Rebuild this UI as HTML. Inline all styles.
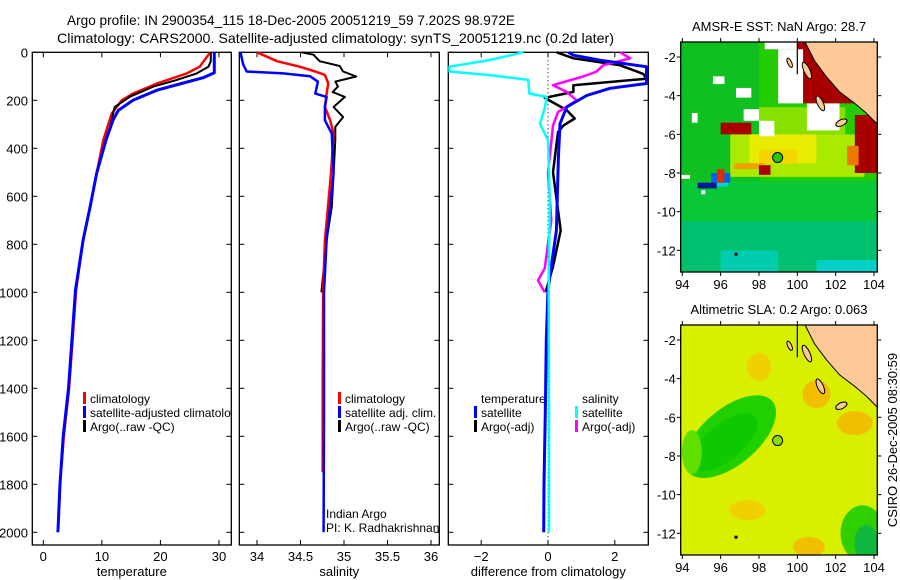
<!DOCTYPE html>
<html><head><meta charset="utf-8"><style>
html,body{margin:0;padding:0;background:#fff;}
svg{display:block;font-family:"Liberation Sans",sans-serif;}
</style></head><body>
<svg id="fig" width="900" height="580" viewBox="0 0 900 580" xmlns="http://www.w3.org/2000/svg">
<text x="67" y="25" font-size="14" textLength="448" lengthAdjust="spacingAndGlyphs">Argo profile: IN 2900354_115 18-Dec-2005 20051219_59 7.202S 98.972E</text>
<text x="57" y="43" font-size="14" textLength="557" lengthAdjust="spacingAndGlyphs">Climatology: CARS2000. Satellite-adjusted climatology: synTS_20051219.nc (0.2d later)</text>
<g id="plots"></g>
<g id="maps"></g>
<text transform="translate(897,440) rotate(-90)" text-anchor="middle" font-size="13">CSIRO 26-Dec-2005 08:30:59</text>
</svg>
<script>
// ---- data ----
const depthTicks = [0,200,400,600,800,1000,1200,1400,1600,1800,2000];
const tempTicks = [0,10,20,30];
const salTicks = [34,34.5,35,35.5,36];
const salTickLabels = ["34","34.5","35","35.5","36"];
const diffTicks = [-2,0,2];
// temperature
const tClimDepth = [0,60,88,130,172,200,255,366,505,644,783,990,1400,1600,1724];
const tClim = [28.5,26.7,24.5,19.4,15.3,13.4,11.7,10.25,9.1,8.0,6.8,5.6,4.4,3.5,3.1];
const tSatDepth = [0,85,106,130,158,200,242,283,366,505,644,783,990,1400,1600,1800,2000];
const tSat = [29.2,29.2,27.3,23.6,19.4,15.3,12.8,11.9,10.7,9.1,8.0,6.8,5.5,4.3,3.4,2.85,2.5];
const tArgoDepth = [0,37,60,88,115,143,185,228,311,366,505,644,783,1000];
const tArgo = [28.6,28.6,28.2,26.2,22.8,18.8,14.8,12.2,11.4,10.6,9.1,8.0,6.8,5.5];
// salinity
const sClimDepth = [0,37,60,80,94,130,172,228,283,339,505,783,1000,1400,1750];
const sClim = [34.0,34.23,34.49,34.67,34.78,34.82,34.80,34.78,34.84,34.88,34.85,34.78,34.76,34.755,34.755];
const sSatDepth = [0,49,80,88,100,122,172,186,228,283,339,505,783,1000,1500,2000];
const sSat = [33.81,33.84,33.88,34.3,34.61,34.70,34.67,34.80,34.78,34.78,34.86,34.88,34.80,34.77,34.77,34.765];
const sArgoDepth = [0,10,37,57,80,101,122,143,166,186,228,270,311,366,505,644,783,1000];
const sArgo = [34.51,34.65,34.72,34.95,34.99,35.14,34.90,34.93,34.87,35.01,34.88,34.99,34.90,34.90,34.88,34.86,34.80,34.74];
// differences from climatology
const dTSatDepth = [0,12,33,60,130,150,180,228,298,437,742,990,1200,1500,1800,2000];
const dTSat = [0.61,0.76,1.56,2.95,2.95,1.86,1.16,0.56,0.36,0.31,0.25,0.0,-0.05,-0.08,-0.12,-0.13];
const dTArgoDepth = [0,25,54,90,110,137,165,190,241,276,305,333,500,742,893,990,1000];
const dTArgo = [0.26,0.76,2.16,2.85,2.95,0.76,0.76,-0.1,0.56,0.8,0.46,0.3,0.15,0.38,0.15,-0.05,-0.05];
const dSSatDepth = [0,32,60,80,95,115,172,186,228,298,366,600,1000,1500,2000];
const dSSat = [-0.74,-1.74,-2.95,-2.95,-1.74,-0.59,-0.56,-0.04,-0.09,-0.24,0.0,0.05,0.02,0.03,0.03];
const dSArgoDepth = [0,25,54,81,101,137,165,200,249,305,374,500,700,900,950,1000];
const dSArgo = [2.16,2.46,1.65,1.45,1.05,0.15,0.56,0.86,0.3,0.15,0.1,0.0,0.1,-0.1,-0.3,-0.1];

const NS='http://www.w3.org/2000/svg';
function mk(tag, attrs, parent){const e=document.createElementNS(NS,tag);for(const k in attrs)e.setAttribute(k,attrs[k]);parent.appendChild(e);return e;}
const plots=document.getElementById('plots');
const yD = d => 52.3 + d*0.24;
const panels = [
  {name:'temperature', x0:32.3, x1:231.3, fx:v=>43.3+5.856*v, ticks:tempTicks, labels:tempTicks.map(String), xlabel:'temperature'},
  {name:'salinity', x0:239.3, x1:439.3, fx:v=>257+87*(v-34), ticks:salTicks, labels:salTickLabels, xlabel:'salinity'},
  {name:'difference', x0:448.3, x1:648.3, fx:v=>548+33.4*v, ticks:diffTicks, labels:diffTicks.map(v=>v<0?'\u2212'+(-v):String(v)), xlabel:'difference from climatology'}
];
const topY=52.3, botY=545;
panels.forEach((p,i)=>{
  const g=mk('g',{},plots);
  
  
  const cp=mk('clipPath',{id:'pclip'+i},g);
  mk('rect',{x:p.x0,y:topY,width:p.x1-p.x0,height:botY-topY},cp);
  p.clipId='pclip'+i;
  const r=mk('rect',{x:p.x0,y:topY,width:p.x1-p.x0,height:botY-topY,fill:'none',stroke:'#000','stroke-width':1.3},g);
  
  
  p.ticks.forEach((t,j)=>{
    const x=p.fx(t);
    mk('line',{x1:x,x2:x,y1:botY,y2:botY-5,stroke:'#000'},g);
    mk('line',{x1:x,x2:x,y1:topY,y2:topY+5,stroke:'#000'},g);
    const tl=mk('text',{x:x,y:botY+16,'text-anchor':'middle','font-size':13},g);
    tl.textContent=p.labels[j];
    
    
  });
  depthTicks.forEach(d=>{
    const y=yD(d);
    mk('line',{x1:p.x0,x2:p.x0+5,y1:y,y2:y,stroke:'#000'},g);
    mk('line',{x1:p.x1,x2:p.x1-5,y1:y,y2:y,stroke:'#000'},g);
    if(i===0){
      const tl=mk('text',{x:28,y:y+5,'text-anchor':'end','font-size':13},g);
      tl.textContent=String(d);
      
      
    }
  });
  const xl=mk('text',{x:(p.x0+p.x1)/2,y:576,'text-anchor':'middle','font-size':13},g);
  xl.textContent=p.xlabel;
  
  
  p.g=g;
  p.lg=mk('g',{'clip-path':'url(#pclip'+i+')'},g);
});
const zl=mk('line',{x1:548,x2:548,y1:topY,y2:botY,stroke:'#000','stroke-dasharray':'1,3'},panels[2].g);



function series(p, depths, vals, color, name, w){
  const pts=depths.map((d,k)=>{let x=p.fx(vals[k]);x=Math.max(p.x0+1,Math.min(p.x1-1,x));return x.toFixed(1)+','+yD(d).toFixed(1);}).join(' ');
  const l=mk('polyline',{points:pts,fill:'none',stroke:color,'stroke-width':w||2.5,'stroke-linejoin':'round'},p.g);
  
  
}
const P1=panels[0],P2=panels[1],P3=panels[2];
series(P1,tClimDepth,tClim,'#ff0000','temperature-climatology-line');
series(P1,tArgoDepth,tArgo,'#000000','temperature-argo-line',2);
series(P1,tSatDepth,tSat,'#0000ff','temperature-satellite-line',3);
series(P2,sArgoDepth,sArgo,'#000000','salinity-argo-line',2);
series(P2,sClimDepth,sClim,'#ff0000','salinity-climatology-line');
series(P2,sSatDepth,sSat,'#0000ff','salinity-satellite-line');
series(P3,dTArgoDepth,dTArgo,'#000000','temp-argo-diff-line');
series(P3,dSArgoDepth,dSArgo,'#ff00ff','salinity-argo-diff-line');
series(P3,dTSatDepth,dTSat,'#0000ff','temp-satellite-diff-line',3);
series(P3,dSSatDepth,dSSat,'#00ffff','salinity-satellite-diff-line');

function legend(g,x,y,color,text,name){
  if(color){const m=mk('rect',{x:x-7,y:y-11,width:3,height:12,fill:color},g);
    
    }
  const t=mk('text',{x:x,y:y,'font-size':12},g);
  t.textContent=text;
  
  
}
legend(P1.lg,90,403,'#ff0000','climatology','legend-climatology');
legend(P1.lg,90,417,'#0000ff','satellite-adjusted climatology','legend-satellite-adjusted');
legend(P1.lg,90,431,'#000000','Argo(..raw -QC)','legend-argo-raw');
legend(P2.lg,345,403,'#ff0000','climatology','legend-sal-climatology');
legend(P2.lg,345,417,'#0000ff','satellite adj. clim.','legend-sal-satellite');
legend(P2.lg,345,431,'#000000','Argo(..raw -QC)','legend-sal-argo');
legend(P2.lg,326,518,null,'Indian Argo','credit-indian-argo');
legend(P2.lg,326,532,null,'PI: K. Radhakrishnan','credit-pi');
legend(P3.lg,481,403,null,'temperature','legend-temperature-heading');
legend(P3.lg,481,417,'#0000ff','satellite','legend-temp-satellite');
legend(P3.lg,481,431,'#000000','Argo(-adj)','legend-temp-argo');
legend(P3.lg,582,403,null,'salinity','legend-salinity-heading');
legend(P3.lg,582,417,'#00ffff','satellite','legend-sal-sat');
legend(P3.lg,582,431,'#ff00ff','Argo(-adj)','legend-sal-argo-adj');

// ---- maps ----
const mapLonTicks=[94,96,98,100,102,104];
const mapLatTicks=[-2,-4,-6,-8,-10,-12];
const argoLon=98.972, argoLat=-7.202;
const coast=[[100.4,-1.22],[100.9,-2.2],[101.5,-3.0],[102.2,-3.8],[103.0,-4.4],[103.6,-4.9],[104.2,-5.5]];
const maps=document.getElementById('maps');
function drawMap(offY, title, kind){
  const X=lon=>682.3+(lon-94)*19.17, Y=lat=>340-offY+(-lat-2)*19.33;
  const x0=680.7,x1=877.3,y0=325-offY,y1=555-offY;
  const g=mk('g',{},maps);
  
  
  const cid='clip'+kind;
  const cp=mk('clipPath',{id:cid},g); mk('rect',{x:x0,y:y0,width:x1-x0,height:y1-y0},cp);
  const c=mk('g',{'clip-path':'url(#'+cid+')'},g);
  const R=(lo1,la1,lo2,la2,f)=>mk('rect',{x:X(lo1),y:Y(la1),width:X(lo2)-X(lo1),height:Y(la2)-Y(la1),fill:f},c);
  const E=(lo,la,rx,ry,f,rot)=>mk('ellipse',{cx:X(lo),cy:Y(la),rx:rx,ry:ry,fill:f,transform:'rotate('+(rot||0)+' '+X(lo)+' '+Y(la)+')'},c);
  if(kind==='sst'){
    R(93,-1,105,-14,'#22cc00');
    R(93,-1,98,-8.4,'#10c020');
    R(93,-8.4,105,-14,'#08c838');
    R(94,-10.5,105,-14,'#00c070');
    R(96,-12,99,-13.2,'#00ccb0');
    R(101,-12.5,104.2,-13.2,'#00d0c8');
    R(98,-4.6,102.5,-6,'#88e000');
    R(96.5,-6,103.5,-8.2,'#aaea00');
    R(97.5,-6,101,-7.5,'#e8ec00');
    R(98,-6.8,100,-7.5,'#f5d400');
    R(96.7,-7.5,98.3,-7.8,'#f0a000');
    R(96,-5.4,97.6,-6,'#a80000');
    R(98,-7.6,98.6,-8.1,'#a80000');
    R(95.5,-8,96.5,-8.5,'#0060ff');
    R(95.6,-8.5,96.4,-8.7,'#00d0e0');
    R(94.8,-8.5,95.8,-8.8,'#001890');
    R(95.8,-7.8,96.2,-8.5,'#d83000');
    R(100,-1,104.3,-4.4,'#a80000');
    R(103,-5,104.3,-8,'#a80000');
    R(102.6,-6.6,103.2,-7.6,'#ee7700');
    R(98.3,-1,100,-1.6,'#ffffff');
    R(99,-1.6,100.3,-4.4,'#ffffff');
    R(100.5,-4.4,102.2,-5.8,'#ffffff');
    R(96.8,-3.6,97.6,-4.1,'#ffffff');
    R(95.6,-3,96.2,-3.4,'#ffffff');
    R(94.5,-4.9,94.8,-5.4,'#ffffff');
    R(97.2,-4.7,98,-5.3,'#ffffff');
    R(98,-5.3,98.8,-6.1,'#ffffff');
    R(93.9,-8.1,94.4,-8.3,'#ffffff');
    R(95,-8.9,95.2,-9.1,'#ffffff');
  } else {
    R(93,-1,105,-14,'#d8f000');
    E(96.5,-7,28,55,'#20d000',50);
    E(96.2,-7.3,18,40,'#10c800',50);
    E(94.5,-7.8,10,22,'#60e000',0);
    E(103.4,-12,22,28,'#30d000',0);
    E(103.6,-12.5,12,18,'#10b840',0);
    E(101,-4.8,14,14,'#f0c000',0);
    E(103,-6.3,18,12,'#f0c000',0);
    E(98,-3.4,12,14,'#f0d000',0);
    E(100.6,-12.7,16,10,'#f0c000',0);
    E(97.4,-10.8,18,10,'#f0d000',0);
  }
  const land=[[100.3,-1],[105,-1],[105,-5.6]].concat(coast.slice().reverse()).map(p=>X(p[0]).toFixed(1)+','+Y(p[1]).toFixed(1)).join(' ');
  const lp=mk('polygon',{points:land,fill:'#fdc996',stroke:'#000','stroke-width':1},c);
  
  
  [[99.6,-2.3,2,5],[100.5,-2.7,3,9],[101.2,-4.4,3,8],[102.3,-5.4,6,3]].forEach(a=>mk('ellipse',{cx:X(a[0]),cy:Y(a[1]),rx:a[2],ry:a[3],fill:'#fdc996',stroke:'#000','stroke-width':1,transform:'rotate(-25 '+X(a[0])+' '+Y(a[1])+')'},c));
  mk('line',{x1:X(100),y1:y0,x2:X(100),y2:Y(-2.9),stroke:'#000','stroke-width':1.2},c);
  mk('rect',{x:X(96.8)-1.5,y:Y(-12.2)-1.5,width:3,height:3,fill:'#000'},c);
  const dot=mk('circle',{cx:X(argoLon),cy:Y(argoLat),r:5,fill:kind==='sst'?'#22cc00':'#88e000',stroke:'#000','stroke-width':1},c);
  
  
  mk('rect',{x:x0,y:y0,width:x1-x0,height:y1-y0,fill:'none',stroke:'#000','stroke-width':1.3},g);
  mapLonTicks.forEach(lo=>{
    const x=X(lo);
    mk('line',{x1:x,x2:x,y1:y1,y2:y1+4,stroke:'#000'},g);
    mk('line',{x1:x,x2:x,y1:y0,y2:y0-4,stroke:'#000'},g);
    const t=mk('text',{x:x,y:y1+17,'text-anchor':'middle','font-size':13},g);
    t.textContent=String(lo);
    
    
  });
  mapLatTicks.forEach(la=>{
    const y=Y(la);
    mk('line',{x1:x0,x2:x0-4,y1:y,y2:y,stroke:'#000'},g);
    mk('line',{x1:x1,x2:x1+4,y1:y,y2:y,stroke:'#000'},g);
    const t=mk('text',{x:x0-5,y:y+5,'text-anchor':'end','font-size':13},g);
    t.textContent='-'+(-la);
    
    
  });
  const tt=mk('text',{x:(x0+x1)/2,y:y0-11,'text-anchor':'middle','font-size':13},g);
  tt.textContent=title;
  
  
}
drawMap(283,'AMSR-E SST: NaN Argo: 28.7','sst');
drawMap(0,'Altimetric SLA: 0.2 Argo: 0.063','sla');
</script>
</body></html>
